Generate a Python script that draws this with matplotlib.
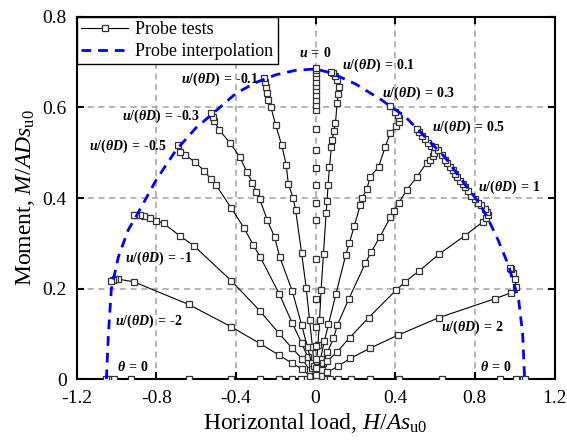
import matplotlib
matplotlib.use('Agg')
import matplotlib.pyplot as plt

plt.rcParams['font.family'] = ['Liberation Serif', 'DejaVu Serif']
plt.rcParams['mathtext.fontset'] = 'custom'
plt.rcParams['mathtext.rm'] = 'Liberation Serif'
plt.rcParams['mathtext.it'] = 'Liberation Serif:italic'
plt.rcParams['mathtext.bf'] = 'Liberation Serif:bold'
plt.rcParams['mathtext.bfit'] = 'Liberation Serif:italic:bold'

# Probe interpolation (envelope)
env_h = [-1.05, -1.04, -1.025, -0.99, -0.94, -0.9, -0.8, -0.7, -0.6, -0.525, -0.4, -0.3,
         -0.2, -0.1, 0.0, 0.08, 0.2, 0.33, 0.45, 0.55, 0.65, 0.75, 0.82, 0.86, 0.917,
         0.97, 1.02, 1.04, 1.05]
env_m = [0.0, 0.1, 0.2, 0.27, 0.33, 0.36, 0.44, 0.506, 0.555, 0.583, 0.631, 0.655,
         0.672, 0.682, 0.685, 0.676, 0.652, 0.617, 0.58, 0.535, 0.49, 0.43, 0.39, 0.36,
         0.307, 0.25, 0.175, 0.1, 0.0]

# Probe tests, one path per u/(theta D)
theta0_left_h = [0, -0.017, -0.042, -0.075, -0.117, -0.183, -0.28, -0.422, -0.637, -0.928, -1.013, -1.04, -1.05]
theta0_left_m = [0] * len(theta0_left_h)
theta0_right_h = [0, 0.017, 0.042, 0.075, 0.113, 0.178, 0.272, 0.417, 0.637, 0.925, 1.008, 1.04, 1.05]
theta0_right_m = [0] * len(theta0_right_h)

pm2_h = [0, -0.03, -0.067, -0.117, -0.183, -0.28, -0.425, -0.637, -0.913, -0.992, -1.005, -1.017, -1.025]
pm2_m = [0, 0.008, 0.022, 0.035, 0.053, 0.079, 0.116, 0.165, 0.215, 0.221, 0.222, 0.219, 0.216]

pm1_h = [0, -0.03, -0.067, -0.117, -0.183, -0.28, -0.422, -0.612, -0.68, -0.763, -0.8, -0.83, -0.86, -0.88, -0.9, -0.91]
pm1_m = [0, 0.02, 0.045, 0.068, 0.101, 0.151, 0.217, 0.295, 0.316, 0.344, 0.35, 0.356, 0.36, 0.362, 0.362, 0.362]

pm05_h = [0, -0.02, -0.04, -0.07, -0.117, -0.183, -0.278, -0.312, -0.358, -0.422, -0.5, -0.525, -0.558, -0.605, -0.653, -0.68, -0.692]
pm05_m = [0, 0.025, 0.05, 0.08, 0.124, 0.189, 0.27, 0.296, 0.333, 0.377, 0.429, 0.441, 0.46, 0.479, 0.495, 0.502, 0.517]

pm03_h = [0, -0.02, -0.04, -0.07, -0.117, -0.18, -0.205, -0.242, -0.28, -0.297, -0.317, -0.345, -0.38, -0.428, -0.483, -0.508, -0.517, -0.525]
pm03_m = [0, 0.035, 0.07, 0.12, 0.195, 0.27, 0.313, 0.351, 0.397, 0.414, 0.434, 0.458, 0.49, 0.521, 0.55, 0.569, 0.58, 0.587]

pm01_h = [0, -0.008, -0.015, -0.03, -0.047, -0.07, -0.1, -0.112, -0.137, -0.147, -0.17, -0.2, -0.225, -0.24, -0.245, -0.25, -0.255, -0.258]
pm01_m = [0, 0.03, 0.07, 0.13, 0.202, 0.279, 0.373, 0.399, 0.432, 0.473, 0.517, 0.561, 0.602, 0.617, 0.632, 0.645, 0.657, 0.665]

p0_h = [0] * 25
p0_m = [0, 0.01, 0.025, 0.045, 0.073, 0.116, 0.177, 0.265, 0.351, 0.388, 0.429, 0.466, 0.506,
        0.552, 0.594, 0.605, 0.616, 0.627, 0.638, 0.647, 0.657, 0.668, 0.677, 0.683, 0.687]

pp01_h = [0, 0.006, 0.012, 0.02, 0.028, 0.04, 0.053, 0.058, 0.063, 0.07, 0.08, 0.083, 0.092, 0.1, 0.108, 0.115, 0.117, 0.11, 0.1, 0.09, 0.08]
pp01_m = [0, 0.04, 0.075, 0.13, 0.198, 0.277, 0.366, 0.394, 0.429, 0.469, 0.513, 0.528, 0.547, 0.565, 0.609, 0.63, 0.645, 0.66, 0.67, 0.676, 0.679]

pp03_h = [0, 0.01, 0.025, 0.045, 0.065, 0.103, 0.152, 0.17, 0.195, 0.225, 0.233, 0.258, 0.275, 0.317, 0.35, 0.375, 0.403, 0.417, 0.417, 0.413, 0.4, 0.375]
pp03_m = [0, 0.02, 0.045, 0.085, 0.121, 0.189, 0.275, 0.301, 0.339, 0.385, 0.399, 0.421, 0.447, 0.469, 0.513, 0.543, 0.558, 0.568, 0.576, 0.583, 0.591, 0.603]

pp05_h = [0, 0.015, 0.035, 0.06, 0.09, 0.11, 0.168, 0.25, 0.278, 0.322, 0.375, 0.392, 0.417, 0.458, 0.508, 0.558,
          0.575, 0.59, 0.597, 0.58, 0.565, 0.55, 0.535, 0.52, 0.508]
pp05_m = [0, 0.015, 0.035, 0.06, 0.09, 0.12, 0.178, 0.256, 0.28, 0.313, 0.357, 0.372, 0.388, 0.418, 0.446, 0.478,
          0.485, 0.492, 0.5, 0.515, 0.522, 0.53, 0.538, 0.546, 0.552]

pp1_h = [0, 0.03, 0.06, 0.108, 0.172, 0.267, 0.403, 0.45, 0.52, 0.62, 0.75, 0.842, 0.858, 0.866, 0.86,
         0.85, 0.83, 0.815, 0.8, 0.783, 0.765, 0.75, 0.738, 0.725, 0.712, 0.7, 0.688, 0.675, 0.662, 0.65, 0.633, 0.617, 0.6]
pp1_m = [0, 0.02, 0.04, 0.06, 0.092, 0.136, 0.196, 0.215, 0.239, 0.276, 0.317, 0.348, 0.355, 0.362, 0.37,
         0.376, 0.385, 0.39, 0.398, 0.405, 0.415, 0.424, 0.43, 0.438, 0.446, 0.454, 0.462, 0.469, 0.478, 0.485, 0.496, 0.505, 0.512]

pp2_h = [0, 0.025, 0.06, 0.113, 0.175, 0.272, 0.413, 0.62, 0.903, 0.983, 1.008, 1.0, 0.99, 0.98, 0.975]
pp2_m = [0, 0.006, 0.015, 0.029, 0.046, 0.068, 0.097, 0.136, 0.178, 0.191, 0.204, 0.222, 0.235, 0.243, 0.246]

paths = [
    (theta0_left_h, theta0_left_m), (theta0_right_h, theta0_right_m),
    (pm2_h, pm2_m), (pm1_h, pm1_m), (pm05_h, pm05_m), (pm03_h, pm03_m), (pm01_h, pm01_m),
    (pp01_h, pp01_m), (pp03_h, pp03_m), (pp05_h, pp05_m), (pp1_h, pp1_m), (pp2_h, pp2_m),
]

# Annotation labels (value after "=")
lbl_val = ['0', '0.1', '0.3', '0.5', '1', '2', '\u20100.1', '\u20100.3', '\u20100.5', '\u20101', '\u20102', '0', '0']
lbl_kind = ['u', 'r', 'r', 'r', 'r', 'r', 'r', 'r', 'r', 'r', 'r', 't', 't']
lbl_h = [0.0, 0.317, 0.517, 0.77, 0.975, 0.79, -0.483, -0.775, -0.94, -0.79, -0.84, 0.907, -0.918]
lbl_m = [0.72, 0.692, 0.632, 0.555, 0.424, 0.115, 0.663, 0.581, 0.515, 0.267, 0.128, 0.027, 0.027]

xticks = [-1.2, -0.8, -0.4, 0, 0.4, 0.8, 1.2]
xtick_labels = ['-1.2', '-0.8', '-0.4', '0', '0.4', '0.8', '1.2']
yticks = [0, 0.2, 0.4, 0.6, 0.8]
ytick_labels = ['0', '0.2', '0.4', '0.6', '0.8']

fig = plt.figure(figsize=(5.67, 4.44), dpi=100)
ax = fig.add_axes([0.135, 0.146, 0.843, 0.816])

for i, (h, m) in enumerate(paths):
    ax.plot(h, m, color='black', lw=0.8, marker='s', ms=5, mfc='white', mec='#333333', mew=0.9,
            label='Probe tests' if i == 0 else None, zorder=3)
ax.plot(p0_h, p0_m, ls='none', marker='s', ms=5, mfc='white', mec='#333333', mew=0.9, zorder=3)
ax.plot(env_h, env_m, color='blue', lw=2, ls=(0, (3.5, 2.5)), label='Probe interpolation', zorder=4)

prefix = {'u': r'\mathbfit{u}',
          'r': r'\mathbfit{u}\mathbf{/(}\mathbfit{\theta D}\mathbf{)}',
          't': r'\mathbfit{\theta}'}
for k, v, h, m in zip(lbl_kind, lbl_val, lbl_h, lbl_m):
    t = '$' + prefix[k] + r'\:\mathbf{=}\:\mathbf{' + v + '}$'
    ax.text(h, m, t, fontsize=10, ha='center', va='center', zorder=5)

ax.set_xlim(-1.2, 1.2)
ax.set_ylim(0, 0.8)
ax.set_xticks(xticks)
ax.set_xticklabels(xtick_labels)
ax.set_yticks(yticks)
ax.set_yticklabels(ytick_labels)
ax.grid(True, color='#a0a0a0', ls=(0, (4, 3)), lw=1.1)
ax.set_axisbelow(True)
ax.tick_params(direction='in', length=5, width=1.5, labelsize=14, top=True, right=True,
               labeltop=False, labelright=False)
ax.tick_params(axis='x', pad=8)
ax.tick_params(axis='y', pad=7)
for s in ax.spines.values():
    s.set_linewidth(1.5)

ax.set_xlabel(r'Horizontal load, $H/As_{\mathrm{u0}}$', fontsize=17, labelpad=3)
ax.set_ylabel(r'Moment, $M/ADs_{\mathrm{u0}}$', fontsize=17, labelpad=4)

leg = ax.legend(loc='upper left', bbox_to_anchor=(0, 1), borderaxespad=0, fancybox=False,
                edgecolor='black', framealpha=1, fontsize=13, handlelength=2.6,
                borderpad=0.25, labelspacing=0.25, handletextpad=0.4)
leg.get_frame().set_linewidth(1.0)

fig.savefig('out.png', dpi=100)
